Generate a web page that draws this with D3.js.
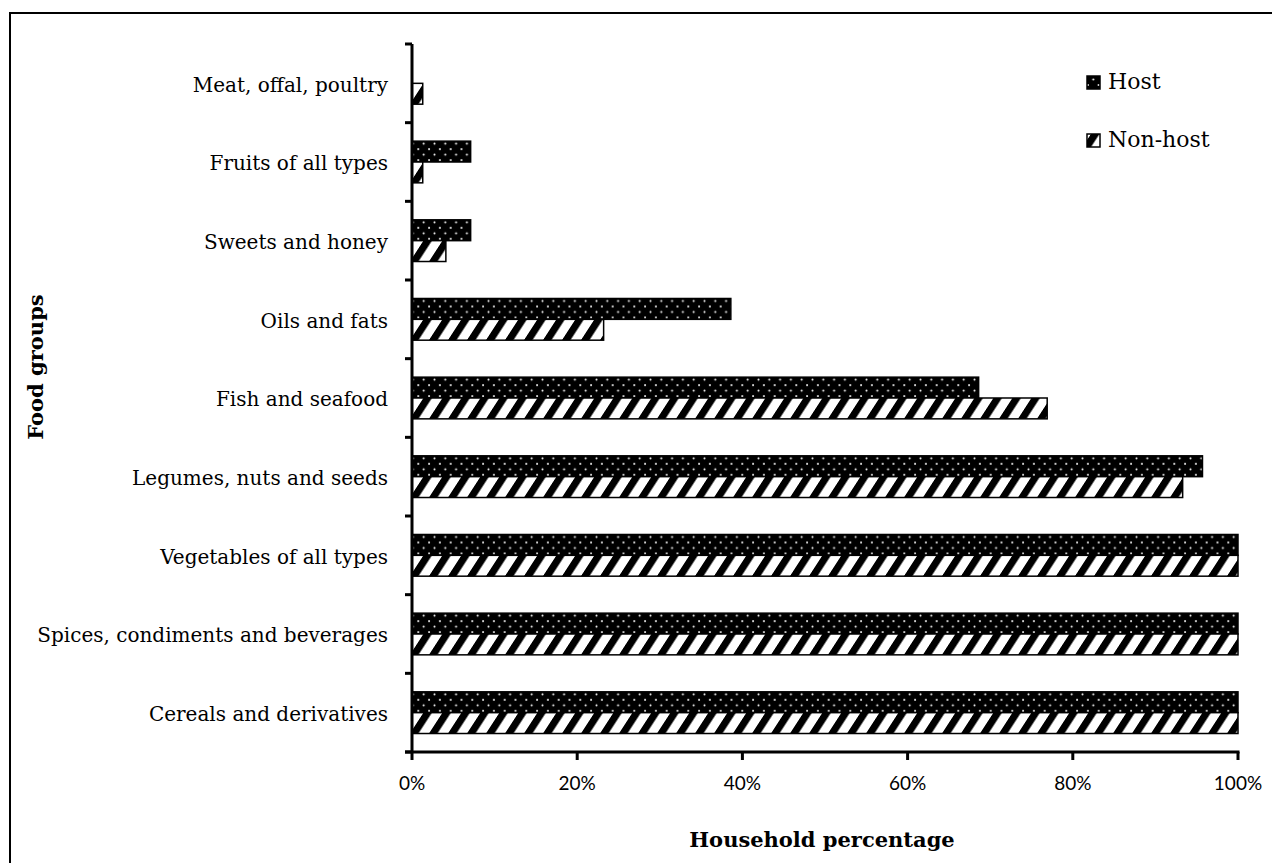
<!DOCTYPE html>
<html>
<head>
<meta charset="utf-8">
<script src="https://cdn.jsdelivr.net/npm/d3@7"></script>
<style>
  html, body { margin: 0; padding: 0; background: #fff; }
  svg { display: block; }
</style>
</head>
<body>
<svg id="chart" width="1272" height="863"></svg>
<script>
const categories = [
  "Meat, offal, poultry",
  "Fruits of all types",
  "Sweets and honey",
  "Oils and fats",
  "Fish and seafood",
  "Legumes, nuts and seeds",
  "Vegetables of all types",
  "Spices, condiments and beverages",
  "Cereals and derivatives"
];
const seriesNames = ["Host", "Non-host"];
const hostValues    = [0, 7.1, 7.1, 38.6, 68.6, 95.7, 100, 100, 100];
const nonHostValues = [1.3, 1.3, 4.1, 23.2, 76.9, 93.3, 100, 100, 100];
const xTicks = [0, 20, 40, 60, 80, 100];
const xTitle = "Household percentage";
const yTitle = "Food groups";

const svg = d3.select("#chart");
const serif = "'DejaVu Serif', serif";
const sans = "Lato, 'Open Sans', sans-serif";

// patterns
const defs = svg.append("defs");
const dots = defs.append("pattern").attr("id", "dots")
  .attr("patternUnits", "userSpaceOnUse").attr("width", 10.8).attr("height", 11);
dots.append("rect").attr("width", 10.8).attr("height", 11).attr("fill", "#000");
dots.append("circle").attr("cx", 2.5).attr("cy", 2.5).attr("r", 1).attr("fill", "#fff");
dots.append("circle").attr("cx", 7.9).attr("cy", 8).attr("r", 1).attr("fill", "#fff");

const stripes = defs.append("pattern").attr("id", "stripes")
  .attr("patternUnits", "userSpaceOnUse").attr("width", 19).attr("height", 10)
  .attr("patternTransform", "skewX(-33)");
stripes.append("rect").attr("width", 19).attr("height", 10).attr("fill", "#fff");
stripes.append("rect").attr("width", 8.5).attr("height", 10).attr("fill", "#000");

// outer border
svg.append("rect").attr("x", 10).attr("y", 13).attr("width", 1300).attr("height", 900)
  .attr("fill", "none").attr("stroke", "#000").attr("stroke-width", 2);

const x = d3.scaleLinear().domain([0, 100]).range([412, 1238]);
const y = d3.scaleBand().domain(categories).range([44, 752]).paddingInner(0.47).paddingOuter(0.235);
const sub = d3.scaleBand().domain(seriesNames).range([0, y.bandwidth()]);

const data = categories.map((c, i) => ({ c, vals: [
  { s: "Host", v: hostValues[i] },
  { s: "Non-host", v: nonHostValues[i] }
]}));

const g = svg.append("g");
const groups = g.selectAll("g.cat").data(data).join("g")
  .attr("transform", d => `translate(0,${y(d.c)})`);
groups.selectAll("rect").data(d => d.vals.filter(e => e.v > 0)).join("rect")
  .attr("x", x(0))
  .attr("y", e => sub(e.s))
  .attr("width", e => x(e.v) - x(0))
  .attr("height", sub.bandwidth())
  .attr("fill", e => e.s === "Host" ? "url(#dots)" : "url(#stripes)")
  .attr("stroke", "#000").attr("stroke-width", 1.5);

// y axis
const step = y.step();
const yAxisG = svg.append("g");
yAxisG.append("line").attr("x1", x(0)).attr("x2", x(0)).attr("y1", 44).attr("y2", 753)
  .attr("stroke", "#000").attr("stroke-width", 3);
const boundaries = d3.range(categories.length + 1).map(i => 44 + i * step);
yAxisG.selectAll("line.tk").data(boundaries).join("line").attr("class", "tk")
  .attr("x1", x(0) - 7).attr("x2", x(0)).attr("y1", d => d).attr("y2", d => d)
  .attr("stroke", "#000").attr("stroke-width", 3);
yAxisG.selectAll("text").data(categories).join("text")
  .attr("x", 388).attr("y", d => y(d) + y.bandwidth() / 2)
  .attr("dy", "0.42em")
  .attr("text-anchor", "end")
  .attr("font-family", serif).attr("font-size", 20).attr("fill", "#000")
  .text(d => d);

// x axis
const xAxisG = svg.append("g");
xAxisG.append("line").attr("x1", x(0) - 7).attr("x2", x(100) + 1.5).attr("y1", 752).attr("y2", 752)
  .attr("stroke", "#000").attr("stroke-width", 3);
xAxisG.selectAll("line.tk").data(xTicks).join("line").attr("class", "tk")
  .attr("x1", d => x(d)).attr("x2", d => x(d)).attr("y1", 752).attr("y2", 760)
  .attr("stroke", "#000").attr("stroke-width", 3);
xAxisG.selectAll("text").data(xTicks).join("text")
  .attr("x", d => x(d)).attr("y", 790)
  .attr("text-anchor", "middle")
  .attr("font-family", sans).attr("font-size", 19).attr("fill", "#000")
  .text(d => d + "%");

// titles
svg.append("text").attr("x", 822).attr("y", 847).attr("text-anchor", "middle")
  .attr("font-family", serif).attr("font-weight", "bold").attr("font-size", 21)
  .text(xTitle);
svg.append("text").attr("transform", "translate(43,367) rotate(-90)").attr("text-anchor", "middle")
  .attr("font-family", serif).attr("font-weight", "bold").attr("font-size", 21)
  .text(yTitle);

// legend
const legend = svg.append("g");
const legY = [76, 134];
seriesNames.forEach((s, i) => {
  legend.append("rect").attr("x", 1087).attr("y", legY[i]).attr("width", 13).attr("height", 13)
    .attr("fill", s === "Host" ? "url(#dots)" : "url(#stripes)")
    .attr("stroke", "#000").attr("stroke-width", 1.5);
  legend.append("text").attr("x", 1108).attr("y", legY[i] + 13)
    .attr("font-family", serif).attr("font-size", 22).attr("fill", "#000")
    .text(s);
});
</script>
</body>
</html>
